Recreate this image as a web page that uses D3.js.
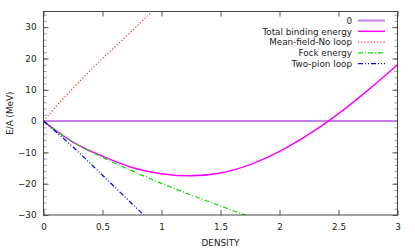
<!DOCTYPE html>
<html>
<head>
<meta charset="utf-8">
<script src="https://cdn.jsdelivr.net/npm/d3@7"></script>
<style>
body { margin: 0; background: #fff; }
svg text { font-family: "DejaVu Sans", sans-serif; font-size: 8.8px; fill: #222; }
</style>
</head>
<body>
<svg width="415" height="249"></svg>
<script>
var svg, plot, x, y, line;

// values
var xTicks = [0, 0.5, 1, 1.5, 2, 2.5, 3];
var yTicks = [-30, -20, -10, 0, 10, 20, 30];
var yMinor = d3.range(-30, 35, 2);

var totalX = [0, 0.1, 0.25, 0.5, 0.75, 1.0, 1.25, 1.5, 1.75, 2.0, 2.25, 2.5, 2.75, 3.0];
var totalY = [0, -2.9, -6.7, -11.2, -14.8, -16.8, -17.5, -16.6, -13.9, -9.7, -4.2, 2.4, 9.9, 18.0];

var meanX = [0, 0.1, 0.2, 0.3, 0.4, 0.5, 0.6, 0.7, 0.8, 0.92, 1.0];
var meanY = [0, 4.4, 8.5, 12.5, 16.3, 20.0, 23.5, 27.0, 30.6, 35.0, 37.8];

var fockX = [0, 0.1, 0.25, 0.5, 0.75, 1.0, 1.25, 1.5, 1.7, 1.8];
var fockY = [0, -2.8, -6.7, -11.6, -15.9, -19.9, -23.6, -27.1, -29.9, -31.2];

var pionX = [0, 0.25, 0.5, 0.75, 0.85, 0.9];
var pionY = [0, -8.3, -17.3, -26.4, -30.0, -31.8];

var names = ['0', 'Total binding energy', 'Mean-field-No loop', 'Fock energy', 'Two-pion loop'];
var colors = ['#c77fe8', '#ff00ff', '#ff3030', '#00e000', '#0000ee'];
var dashes = [null, null, '1.2,2', '5,2,1,2', '5,2,1,2,1,2'];
var widths = [2, 1.5, 1.2, 1.2, 1.2];

var m = {left: 43.5, right: 17.5, top: 11.5, bottom: 34};
var W = 415 - m.left - m.right, H = 249 - m.top - m.bottom;

svg = d3.select('svg');

x = d3.scaleLinear().domain([0, 3]).range([m.left, m.left + W]);
y = d3.scaleLinear().domain([-30, 35]).range([m.top + H, m.top]);

svg.append('clipPath').attr('id', 'clip')
	.append('rect').attr('x', m.left).attr('y', m.top).attr('width', W).attr('height', H);

/*
	ticks
*/
svg.append('g').attr('transform', 'translate(0,' + (m.top + H) + ')')
	.call(d3.axisBottom(x).tickValues(xTicks).tickFormat(d3.format('')).tickSize(-5).tickPadding(9))
	.call(function (g) { g.select('.domain').remove(); g.selectAll('line').attr('stroke', '#555'); });

svg.append('g').attr('transform', 'translate(0,' + m.top + ')')
	.call(d3.axisTop(x).tickValues(xTicks).tickFormat('').tickSize(-5))
	.call(function (g) { g.select('.domain').remove(); g.selectAll('line').attr('stroke', '#555'); });

svg.append('g').attr('transform', 'translate(' + m.left + ',0)')
	.call(d3.axisLeft(y).tickValues(yMinor).tickFormat('').tickSize(-3))
	.call(function (g) { g.select('.domain').remove(); g.selectAll('line').attr('stroke', '#999'); });

svg.append('g').attr('transform', 'translate(' + (m.left + W) + ',0)')
	.call(d3.axisRight(y).tickValues(yMinor).tickFormat('').tickSize(-3))
	.call(function (g) { g.select('.domain').remove(); g.selectAll('line').attr('stroke', '#999'); });

svg.append('g').attr('transform', 'translate(' + m.left + ',0)')
	.call(d3.axisLeft(y).tickValues(yTicks).tickSize(-5).tickPadding(7))
	.call(function (g) { g.select('.domain').remove(); g.selectAll('line').attr('stroke', '#555'); });

svg.append('g').attr('transform', 'translate(' + (m.left + W) + ',0)')
	.call(d3.axisRight(y).tickValues(yTicks).tickFormat('').tickSize(-5))
	.call(function (g) { g.select('.domain').remove(); g.selectAll('line').attr('stroke', '#555'); });

svg.selectAll('.tick text').style('font-family', '"DejaVu Sans", sans-serif').style('font-size', '8.8px').attr('fill', '#222');

/*
	curves
*/
plot = svg.append('g').attr('clip-path', 'url(#clip)');

line = d3.line().x(function (d) { return x(d[0]); }).y(function (d) { return y(d[1]); }).curve(d3.curveMonotoneX);

var series = [
	[[0, 0], [3, 0]],
	d3.zip(totalX, totalY),
	d3.zip(meanX, meanY),
	d3.zip(fockX, fockY),
	d3.zip(pionX, pionY)
];

series.forEach(function (s, i) {
	plot.append('path').attr('d', line(s)).attr('fill', 'none')
		.attr('stroke', colors[i]).attr('stroke-width', widths[i])
		.attr('stroke-dasharray', dashes[i]);
});

/*
	border
*/
svg.append('rect').attr('x', m.left).attr('y', m.top).attr('width', W).attr('height', H)
	.attr('fill', 'none').attr('stroke', '#444').attr('stroke-width', 1);

/*
	legend
*/
names.forEach(function (n, i) {
	var ly = 20.5 + i * 10.8;
	svg.append('text').attr('x', 352).attr('y', ly + 3.2).attr('text-anchor', 'end').text(n);
	svg.append('line').attr('x1', 358).attr('x2', 385).attr('y1', ly).attr('y2', ly)
		.attr('stroke', colors[i]).attr('stroke-width', widths[i]).attr('stroke-dasharray', dashes[i]);
});

/*
	axis titles
*/
svg.append('text').attr('x', m.left + W / 2).attr('y', 246).attr('text-anchor', 'middle').text('DENSITY');
svg.append('text').attr('transform', 'translate(13,' + (m.top + H / 2) + ') rotate(-90)')
	.attr('text-anchor', 'middle').text('E/A (MeV)');
</script>
</body>
</html>
